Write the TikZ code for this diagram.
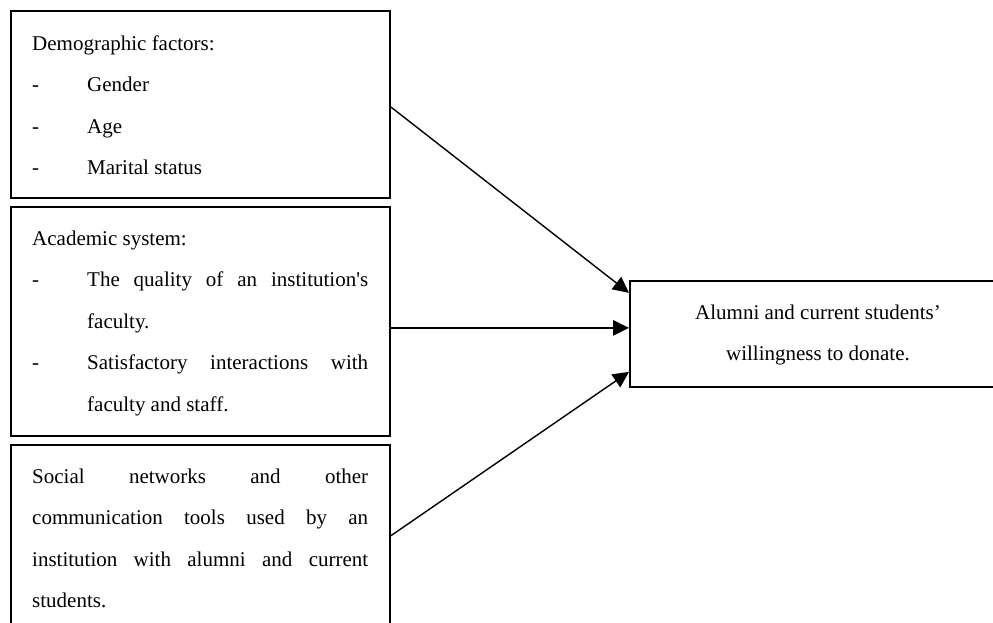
\documentclass[tikz,border=0pt]{standalone}
\usepackage{fontspec}
\setmainfont{Liberation Serif}[Ligatures=TeXOff]
\usetikzlibrary{arrows.meta}
\newcommand\diagfont{\fontsize{21}{41.5}\selectfont}
\begin{document}
\begin{tikzpicture}[x=1pt,y=-1pt,
  frame/.style={draw, line width=1.7pt, rectangle, inner sep=0pt, anchor=north west},
  txt/.style={inner sep=0pt, anchor=base west},
  link/.style={draw, line width=1.4pt, -{Triangle[length=16pt,width=15.5pt]}}]
\useasboundingbox (0,0) rectangle (993,622);
\fill[white] (0,0) rectangle (993,622);
\clip (0,0) rectangle (993,622);
\node[frame, minimum width=379pt, minimum height=187pt] (box1) at (10,10) {};
\node[frame, minimum width=379pt, minimum height=229pt] (box2) at (10,206) {};
\node[frame, minimum width=379pt, minimum height=190pt] (box3) at (10,444) {};
\node[frame, minimum width=378pt, minimum height=106pt] (goal) at (629,280) {};
\node[txt] (t1) at (32,50) {\parbox[t]{336pt}{\diagfont
Demographic factors:\\
\makebox[55pt][l]{-}Gender\\
\makebox[55pt][l]{-}Age\\
\makebox[55pt][l]{-}Marital status}};
\node[txt] (t2) at (32,245) {\parbox[t]{336pt}{\diagfont
Academic system:\\
\makebox[55pt][l]{-}\makebox[281pt][s]{The quality of an institution's}\\
\hspace*{55pt}faculty.\\
\makebox[55pt][l]{-}\makebox[281pt][s]{Satisfactory interactions with}\\
\hspace*{55pt}faculty and staff.}};
\node[txt] (t3) at (32,483) {\parbox[t]{336pt}{\diagfont
\makebox[336pt][s]{Social networks and other}\\
\makebox[336pt][s]{communication tools used by an}\\
\makebox[336pt][s]{institution with alumni and current}\\
students.}};
\node[inner sep=0pt, anchor=base] (tg) at (818,319) {\parbox[t]{320pt}{\centering\diagfont
Alumni and current students’\\
willingness to donate.}};
\draw[link] ([yshift=-2.5pt]box1.east) -- ([yshift=41pt]goal.west);
\draw[link] ([yshift=-6.5pt]box2.east) -- ([yshift=6pt]goal.west);
\draw[link] ([yshift=4pt]box3.east) -- ([yshift=-38pt]goal.west);
\end{tikzpicture}
\end{document}
